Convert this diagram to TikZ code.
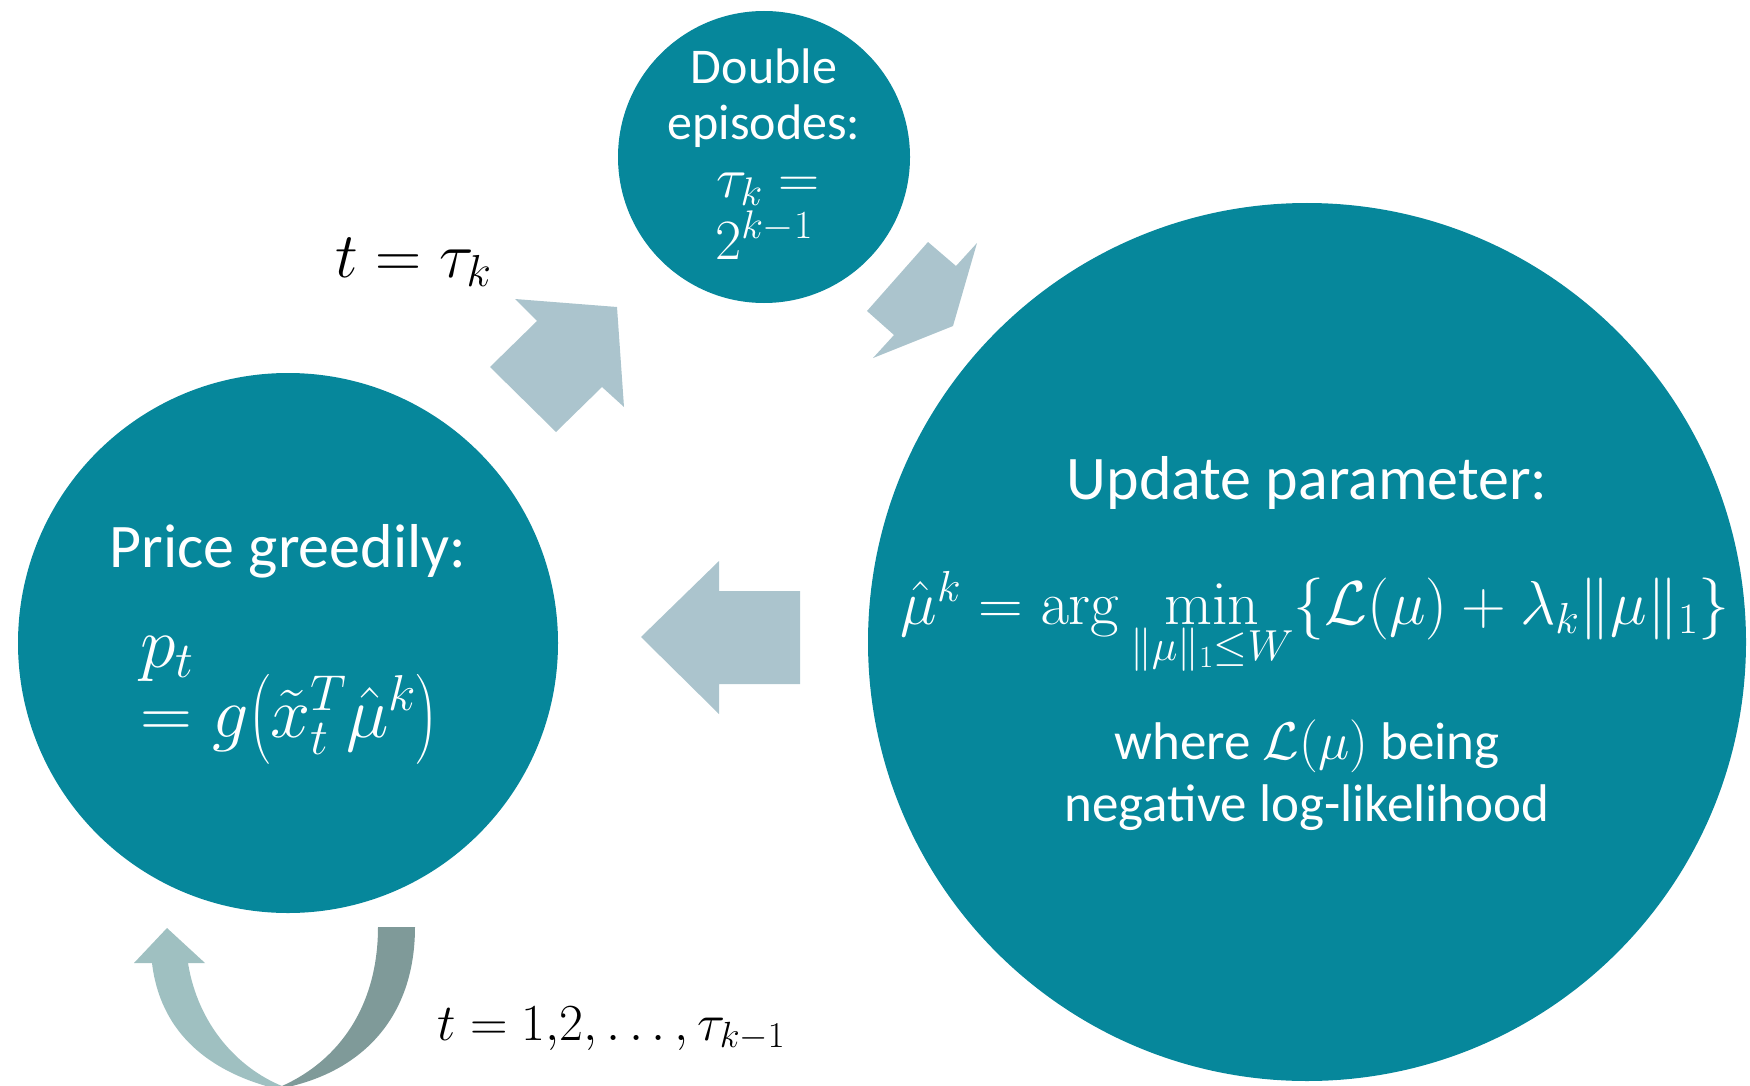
\RequirePackage{fix-cm}
\documentclass[tikz,border=0pt]{standalone}
\usepackage[no-math]{fontspec}
\setmainfont{Carlito}
\usepackage{amsmath}
\usetikzlibrary{positioning}
\definecolor{tealCirc}{HTML}{06879B}
\definecolor{grisFlecha}{HTML}{ABC4CD}
\definecolor{bucleClaro}{HTML}{9FC0C1}
\definecolor{bucleOscuro}{HTML}{7F9A99}

\begin{document}
\begin{tikzpicture}[x=1pt, y=-1pt,
        circ/.style={circle, fill=tealCirc, inner sep=0},
        big/.style={font=\fontsize{62}{74}\selectfont, text=white, anchor=base, inner sep=0},
        mid/.style={font=\fontsize{53}{64}\selectfont, text=white, anchor=base, inner sep=0},
        sml/.style={font=\fontsize{50}{57}\selectfont, text=white, anchor=base, inner sep=0},
        lbl/.style={font=\fontsize{64}{76}\selectfont, anchor=base west, inner sep=0},
        blk/.style={fill=grisFlecha}]
        \useasboundingbox (0,0) rectangle (1750,1086);
        % circulos
        \node[circ, minimum size=540pt] (price) at (288,643) {};
        \node[circ, minimum size=292pt] (dbl) at (764,157) {};
        \node[circ, minimum size=878pt] (upd) at (1307,642) {};
        % textos
        \node[sml] (d1) at (764,84) {Double};
        \node[sml] (d2) at (764,140) {episodes:};
        \node[sml, font=\fontsize{57}{64}\selectfont] (d3) at (768,197) {$\tau_k =$};
        \node[sml, font=\fontsize{57}{64}\selectfont] (d4) at (764,259) {$2^{k-1}$};
        \node[big] (pg) at (288,567) {Price greedily:};
        \node[big, font=\fontsize{72}{84}\selectfont, anchor=base west] (pt) at (140,667) {$p_t$};
        \node[big, font=\fontsize{72}{84}\selectfont, anchor=base west] (gx) at (140,737) {$= g\bigl(\tilde{x}_t^T\hat{\mu}^k\bigr)$};
        \node[big] (up) at (1307,499) {Update parameter:};
        \node[big] (eq) at (1315,624) {$\hat{\mu}^k = \arg\min\limits_{\|\mu\|_1\le W}\{\mathcal{L}(\mu)+\lambda_k\|\mu\|_1\}$};
        \node[mid] (wh) at (1307,759) {where $\mathcal{L}(\mu)$ being};
        \node[mid] (nl) at (1307,821) {negative log-likelihood};
        \node[lbl] (tk) at (335,277) {$t = \tau_k$};
        \node[lbl, font=\fontsize{52}{62}\selectfont] (tr) at (437,1040) {$t = 1{,}2, \dots, \tau_{k-1}$};
        % flechas
        \fill[blk] (490,367) -- (537,321) -- (515,299) -- (617,307) -- (624,407) -- (602,387) -- (556,432) -- cycle;
        \fill[blk] (867,311) -- (928,242) -- (956,266) -- (977,243) -- (953,326) -- (873,358) -- (894,335) -- cycle;
        \fill[blk] (800,591) -- (719,591) -- (719,561) -- (641,637) -- (719,714) -- (719,684) -- (800,684) -- cycle;
        % bucle
        \fill[bucleOscuro] (378,927) -- (415,927) .. controls (415,1015) and (365,1068) .. (292,1086)
            -- (282,1086) .. controls (340,1060) and (378,1005) .. (378,927) -- cycle;
        \fill[bucleClaro] (134,963) -- (167,928) -- (205,963) -- (188,963) .. controls (198,1025) and (238,1068) .. (282,1086)
            -- (266,1086) .. controls (205,1068) and (160,1030) .. (152,963) -- cycle;
    \end{tikzpicture}
\end{document}
